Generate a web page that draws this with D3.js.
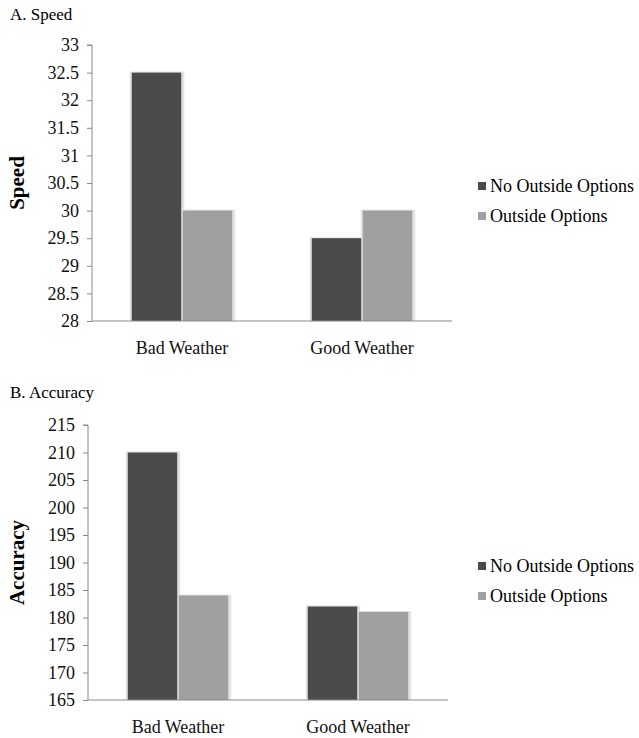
<!DOCTYPE html>
<html>
<head>
<meta charset="utf-8">
<script src="https://cdn.jsdelivr.net/npm/d3@7"></script>
<style>
  body { margin: 0; background: #fff; }
  svg text { font-family: "Liberation Serif", "DejaVu Serif"; }
</style>
</head>
<body>
<svg id="chart" width="639" height="738"></svg>
<script>
var categories = ['Bad Weather', 'Good Weather'];
var seriesNames = ['No Outside Options', 'Outside Options'];
var speedNoOutside = [32.5, 29.5];
var speedOutside = [30, 30];
var speedTicks = [28, 28.5, 29, 29.5, 30, 30.5, 31, 31.5, 32, 32.5, 33];
var accuracyNoOutside = [210, 182];
var accuracyOutside = [184, 181];
var accuracyTicks = [165, 170, 175, 180, 185, 190, 195, 200, 205, 210, 215];
var colors = ['#4b4b4b', '#a0a0a0'];

var svg = d3.select('#chart');

function drawPanel(opts) {
    var g = svg.append('g');
    // panel title
    g.append('text')
        .attr('x', 10).attr('y', opts.titleY)
        .attr('font-size', 17)
        .text(opts.title);

    var x = d3.scaleBand().domain(categories).range([opts.left, opts.left + 360]);
    var x1 = d3.scaleBand().domain(seriesNames).range([0, x.bandwidth()]).paddingInner(0.03).paddingOuter(0.78);
    var y = d3.scaleLinear().domain(d3.extent(opts.ticks)).range([opts.bottom, opts.top]);

    var rows = categories.map(function (c, i) {
        return [
            { cat: c, s: seriesNames[0], v: opts.series[0][i], color: colors[0] },
            { cat: c, s: seriesNames[1], v: opts.series[1][i], color: colors[1] }
        ];
    }).flat();

    // soft shadow behind bars
    g.selectAll('rect.shadow').data(rows).enter().append('rect')
        .attr('class', 'shadow')
        .attr('x', function (d) { return x(d.cat) + x1(d.s) - 2; })
        .attr('y', function (d) { return y(d.v) - 1; })
        .attr('width', x1.bandwidth() + 5)
        .attr('height', function (d) { return opts.bottom - y(d.v) + 1; })
        .attr('fill', '#e2e2e2');
    g.selectAll('rect.bar').data(rows).enter().append('rect')
        .attr('class', 'bar')
        .attr('x', function (d) { return x(d.cat) + x1(d.s); })
        .attr('y', function (d) { return y(d.v); })
        .attr('width', x1.bandwidth())
        .attr('height', function (d) { return opts.bottom - y(d.v); })
        .attr('fill', function (d) { return d.color; });

    // y axis
    var yAxis = d3.axisLeft(y).tickValues(opts.ticks).tickSize(5).tickPadding(8)
        .tickFormat(function (d) { return String(d); });
    var ya = g.append('g').attr('transform', 'translate(' + opts.left + ',0)').call(yAxis);
    ya.select('.domain').attr('stroke', '#8a8a8a').attr('d', 'M-5,' + opts.top + 'H0V' + opts.bottom);
    ya.selectAll('.tick line').attr('stroke', '#8a8a8a');
    ya.selectAll('text').attr('font-size', 18).attr('fill', '#111');

    // x axis
    var xAxis = d3.axisBottom(x).tickSize(0).tickPadding(20);
    var xa = g.append('g').attr('transform', 'translate(0,' + opts.bottom + ')').call(xAxis);
    xa.select('.domain').attr('stroke', '#8a8a8a').attr('d', 'M' + opts.left + ',0H' + (opts.left + 360));
    xa.selectAll('text').attr('font-size', 18).attr('fill', '#111');

    // axis title
    g.append('text')
        .attr('transform', 'translate(' + 24 + ',' + ((opts.top + opts.bottom) / 2) + ') rotate(-90)')
        .attr('text-anchor', 'middle')
        .attr('font-size', 21)
        .attr('font-weight', 'bold')
        .text(opts.axisTitle);

    // legend
    var lg = g.append('g').attr('transform', 'translate(478,' + opts.legendY + ')');
    seriesNames.forEach(function (s, i) {
        lg.append('rect').attr('x', 0).attr('y', i * 30 - 5).attr('width', 8).attr('height', 8).attr('fill', colors[i]);
        lg.append('text').attr('x', 12).attr('y', i * 30 + 5).attr('font-size', 18).text(s);
    });
}

drawPanel({
    title: 'A. Speed', titleY: 20, axisTitle: 'Speed',
    left: 92, top: 45, bottom: 321,
    ticks: speedTicks, series: [speedNoOutside, speedOutside],
    legendY: 187
});
drawPanel({
    title: 'B. Accuracy', titleY: 398, axisTitle: 'Accuracy',
    left: 88, top: 425, bottom: 700,
    ticks: accuracyTicks, series: [accuracyNoOutside, accuracyOutside],
    legendY: 567
});
</script>
</body>
</html>
